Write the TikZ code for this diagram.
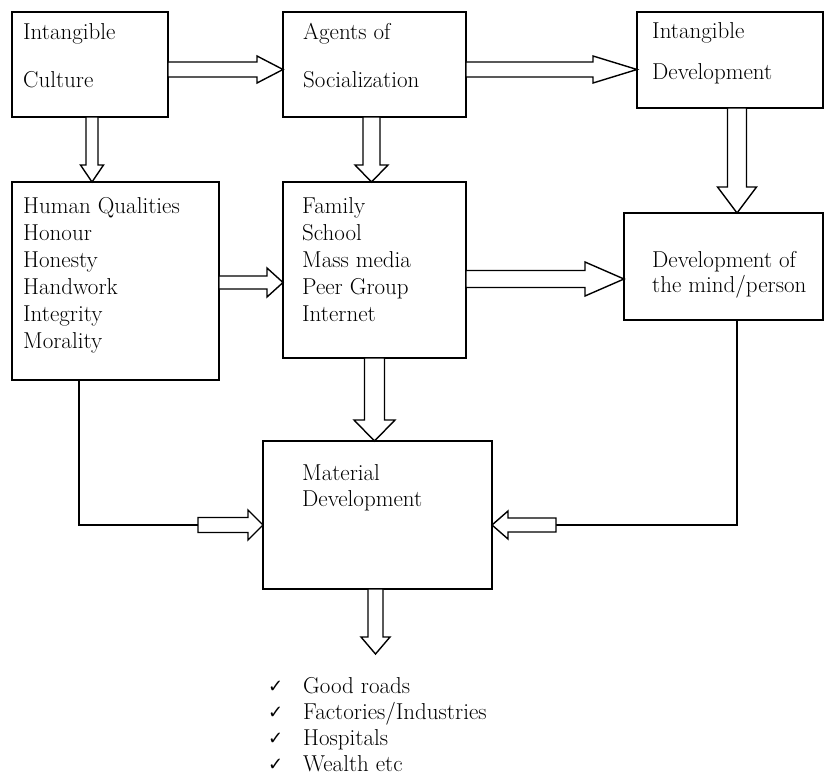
\documentclass[tikz,border=0pt]{standalone}
\usepackage{fontspec}
\newfontfamily\djv{DejaVu Sans}
\usetikzlibrary{calc}
\tikzset{
  box/.style={draw, line width=1.2pt, inner sep=0pt, outer sep=0pt, anchor=north west},
  thickbox/.style={box, line width=1.8pt},
  txt/.style={anchor=base west, inner sep=0pt, font=\fontsize{23}{27}\selectfont},
  chk/.style={anchor=base west, inner sep=0pt, font=\djv\fontsize{18}{20}\selectfont},
  blk/.style={draw, fill=white, line width=1.4pt, line join=miter},
  wire/.style={draw, line width=1.1pt}
}
\newcommand\blockarrow[5]{%
  \path ($(#2)!#5!(#1)$) coordinate (bah);
  \draw[blk] ($(#1)!#3!90:(#2)$) -- ($(bah)!#3!90:(#2)$) -- ($(bah)!#4!90:(#2)$) -- (#2)
    -- ($(bah)!#4!-90:(#2)$) -- ($(bah)!#3!-90:(#2)$) -- ($(#1)!#3!-90:(#2)$) -- cycle;}
\begin{document}
\begin{tikzpicture}[x=1pt,y=-1pt]
\useasboundingbox (0,0) rectangle (825,776);
% boxes
\node[box, minimum width=156pt, minimum height=105pt] (b1) at (12,12) {};
\node[box, minimum width=183pt, minimum height=105pt] (b2) at (283,12) {};
\node[box, minimum width=186pt, minimum height=96pt] (b3) at (637,12) {};
\node[thickbox, minimum width=199pt, minimum height=107pt] (b4) at (624,213) {};
\node[box, minimum width=207pt, minimum height=198pt] (b5) at (12,182) {};
\node[box, minimum width=183pt, minimum height=176pt] (b6) at (283,182) {};
\node[box, minimum width=229pt, minimum height=148pt] (b7) at (263,441) {};
% texts
\node[txt] (t1a) at (23,40) {Intangible};
\node[txt] (t1b) at (23,88) {Culture};
\node[txt] (t2a) at (303,40) {Agents of};
\node[txt] (t2b) at (303,88) {Socialization};
\node[txt] (t3a) at (652,39) {Intangible};
\node[txt] (t3b) at (652,80) {Development};
\node[txt] (t4a) at (652,267) {Development of};
\node[txt] (t4b) at (652,292) {the mind/person};
\node[txt] (t5a) at (23,213) {Human Qualities};
\node[txt] (t5b) at (23,240) {Honour};
\node[txt] (t5c) at (23,267) {Honesty};
\node[txt] (t5d) at (23,294) {Handwork};
\node[txt] (t5e) at (23,321) {Integrity};
\node[txt] (t5f) at (23,348) {Morality};
\node[txt] (t6a) at (302,213) {Family};
\node[txt] (t6b) at (302,240) {School};
\node[txt] (t6c) at (302,267) {Mass media};
\node[txt] (t6d) at (302,294) {Peer Group};
\node[txt] (t6e) at (302,321) {Internet};
\node[txt] (t7a) at (302,480) {Material};
\node[txt] (t7b) at (302,506) {Development};
\node[chk] (c1) at (268,692) {✓};
\node[chk] (c2) at (268,718) {✓};
\node[chk] (c3) at (268,744) {✓};
\node[chk] (c4) at (268,770) {✓};
\node[txt] (l1) at (303,693) {Good roads};
\node[txt] (l2) at (303,719) {Factories/Industries};
\node[txt] (l3) at (303,745) {Hospitals};
\node[txt] (l4) at (303,771) {Wealth etc};
% connector coordinates
\coordinate (a1s) at ([yshift=-5pt]b1.east);
\coordinate (a1e) at (a1s -| b2.west);
\coordinate (a2s) at ([yshift=-5pt]b2.east);
\coordinate (a2e) at (a2s -| b3.west);
\coordinate (a3s) at ([xshift=2pt]b1.south);
\coordinate (a3e) at (a3s |- b5.north);
\coordinate (a4s) at ([xshift=-3pt]b2.south);
\coordinate (a4e) at (a4s |- b6.north);
\coordinate (a5s) at ([xshift=7pt]b3.south);
\coordinate (a5e) at (a5s |- b4.north);
\coordinate (a6s) at ([yshift=-1.5pt]b5.east);
\coordinate (a6e) at (a6s -| b6.west);
\coordinate (a7s) at ([yshift=-9pt]b6.east);
\coordinate (a7e) at (a7s -| b4.west);
\coordinate (a8s) at (b6.south);
\coordinate (a8e) at (a8s |- b7.north);
\coordinate (ml) at ([yshift=-10pt]b7.west);
\coordinate (lt) at ([xshift=-65pt]ml);
\coordinate (lv) at ([xshift=67pt]b5.south west);
\coordinate (mr) at ([yshift=-10pt]b7.east);
\coordinate (rt) at ([xshift=64pt]mr);
\coordinate (rv) at ([xshift=-86pt]b4.south east);
\coordinate (a11s) at ([xshift=-2pt]b7.south);
\coordinate (a11e) at ([yshift=-65pt]a11s);
% wires
\draw[wire] (lv) |- (lt);
\draw[wire] (rv) |- (rt);
% block arrows
\blockarrow{a1s}{a1e}{7.5pt}{13.5pt}{26pt}
\blockarrow{a2s}{a2e}{7.5pt}{13.5pt}{44pt}
\blockarrow{a3s}{a3e}{6pt}{11.5pt}{17pt}
\blockarrow{a4s}{a4e}{8.5pt}{16.5pt}{17pt}
\blockarrow{a5s}{a5e}{9.5pt}{19.5pt}{26pt}
\blockarrow{a6s}{a6e}{6.5pt}{14.5pt}{16pt}
\blockarrow{a7s}{a7e}{8.5pt}{17pt}{39pt}
\blockarrow{a8s}{a8e}{10pt}{20.5pt}{21pt}
\blockarrow{lt}{ml}{7.5pt}{15pt}{15pt}
\blockarrow{rt}{mr}{7pt}{14pt}{16pt}
\blockarrow{a11s}{a11e}{7.5pt}{14.5pt}{17pt}
\end{tikzpicture}
\end{document}
